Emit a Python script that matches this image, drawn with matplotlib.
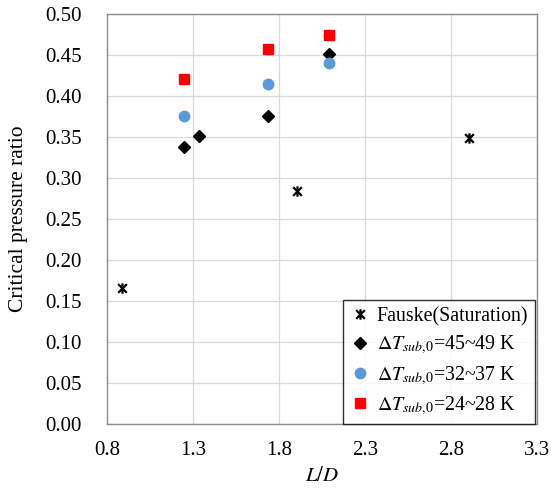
import matplotlib
matplotlib.use("Agg")
import matplotlib.pyplot as plt
from matplotlib.path import Path

plt.rcParams["font.family"] = ["Liberation Serif", "DejaVu Serif"]
plt.rcParams["mathtext.fontset"] = "stix"

# data
fauske_x = [0.885, 1.903, 2.905]
fauske_y = [0.166, 0.284, 0.349]
dt45_x = [1.246, 1.335, 1.734, 2.089]
dt45_y = [0.338, 0.351, 0.376, 0.452]
dt32_x = [1.246, 1.734, 2.089]
dt32_y = [0.376, 0.415, 0.440]
dt24_x = [1.246, 1.734, 2.089]
dt24_y = [0.421, 0.457, 0.474]

x_ticks = [0.8, 1.3, 1.8, 2.3, 2.8, 3.3]
y_ticks = [i * 0.05 for i in range(11)]

# excel style star: x plus vertical bar
star = Path(
	[(-1, -1), (1, 1), (-1, 1), (1, -1), (0, -1.2), (0, 1.2)],
	[Path.MOVETO, Path.LINETO, Path.MOVETO, Path.LINETO, Path.MOVETO, Path.LINETO],
)

fig = plt.figure(figsize=(5.51, 4.88), dpi=100)
ax = fig.add_axes([0.194, 0.131, 0.781, 0.840])

ax.plot(fauske_x, fauske_y, linestyle="None", marker=star, markersize=7.5,
		markeredgecolor="black", markeredgewidth=1.6, color="black", label="Fauske(Saturation)")
ax.plot(dt45_x, dt45_y, linestyle="None", marker="D", markersize=6.5,
		color="black", label=r"$\Delta T_{sub{,}0}$=45~49 K")
ax.plot(dt32_x, dt32_y, linestyle="None", marker="o", markersize=7.5,
		color="#5B9BD5", label=r"$\Delta T_{sub{,}0}$=32~37 K")
ax.plot(dt24_x, dt24_y, linestyle="None", marker="s", markersize=7,
		color="#FF0000", label=r"$\Delta T_{sub{,}0}$=24~28 K")

ax.set_xlim(0.8, 3.3)
ax.set_ylim(0, 0.5)
ax.set_xticks(x_ticks)
ax.set_xticklabels([f"{v:.1f}" for v in x_ticks])
ax.set_yticks(y_ticks)
ax.set_yticklabels([f"{v:.2f}" for v in y_ticks])
ax.tick_params(length=0, labelsize=15)
ax.tick_params(axis="y", pad=18)
ax.tick_params(axis="x", pad=12)
ax.grid(True, color="#D9D9D9", linewidth=0.9)
ax.set_axisbelow(True)
for s in ax.spines.values():
	s.set_color("#8C8C8C")
	s.set_linewidth(1.0)

ax.set_xlabel(r"$L/D$", fontsize=15)
ax.xaxis.set_label_coords(0.5, -0.105)
ax.set_ylabel("Critical pressure ratio", fontsize=15.5)
ax.yaxis.set_label_coords(-0.184, 0.5)

leg = ax.legend(loc="lower right", fontsize=14.3, frameon=True, fancybox=False,
				borderaxespad=0, handletextpad=0.35, handlelength=1.0, labelspacing=0.38,
				borderpad=0.35, bbox_to_anchor=(0.995, 0.0))
leg.get_frame().set_edgecolor("black")
leg.get_frame().set_linewidth(1.0)

plt.savefig("out.png", dpi=100)
plt.close()
